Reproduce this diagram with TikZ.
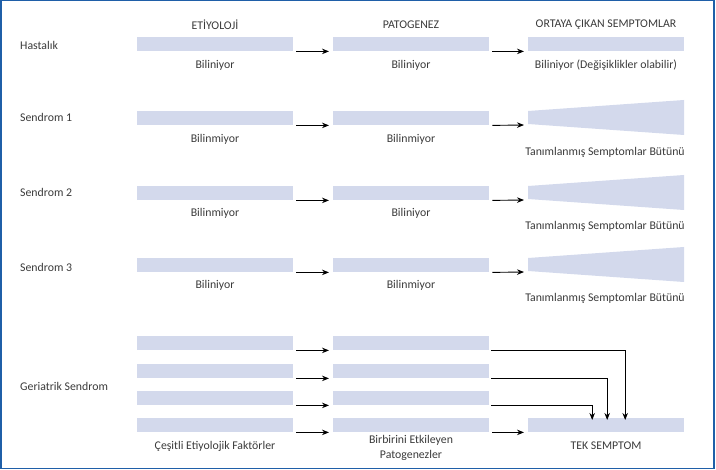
\documentclass[tikz,border=0pt]{standalone}
\usepackage{fontspec}
\setmainfont{Carlito}
\usetikzlibrary{arrows.meta}
\definecolor{barc}{HTML}{D3D9EC}
\definecolor{framec}{HTML}{1F5FA8}
\definecolor{txt}{HTML}{3A3A3A}
\begin{document}
\begin{tikzpicture}[x=1pt,y=-1pt,
  bar/.style={fill=barc, draw=none, minimum width=156pt, minimum height=14pt, inner sep=0, anchor=north west},
  lbl/.style={text=txt, font=\fontsize{11.8}{15}\selectfont, inner sep=0, align=center},
  rowlbl/.style={lbl, anchor=west},
  arr/.style={-{Stealth[length=7pt,width=5.5pt]}, line width=0.9pt},
  trap/.style={fill=barc, draw=none}
]
\useasboundingbox (0,0) rectangle (716,470);
\draw[framec, line width=1.5pt] (0.75,0.75) rectangle (714,468.5);

% Hastalik
\node[rowlbl] (rh) at (20,45) {Hastalık};
\node[bar] (h1) at (137,37) {};
\node[bar] (h2) at (333,37) {};
\node[bar] (h3) at (528,37) {};
\node[lbl] (t1) at (215,25) {ETİYOLOJİ};
\node[lbl] (t2) at (411,25) {PATOGENEZ};
\node[lbl] (t3) at (606,25) {ORTAYA ÇIKAN SEMPTOMLAR};
\node[lbl] (hl1) at (215,65) {Biliniyor};
\node[lbl] (hl2) at (411,65) {Biliniyor};
\node[lbl] (hl3) at (606,65) {Biliniyor (Değişiklikler olabilir)};
\draw[arr] ([xshift=3pt]h1.south east) -- ([xshift=-4pt]h2.south west);
\draw[arr] ([xshift=3pt]h2.south east) -- ([xshift=-4pt]h3.south west);

% Sendrom 1
\node[rowlbl] (r1) at (20,117) {Sendrom 1};
\node[bar] (a1) at (137,111) {};
\node[bar] (a2) at (333,111) {};
\fill[trap] (528,111) -- (684,100) -- (684,135) -- (528,124) -- cycle;
\coordinate (a3) at (528,125);
\node[lbl] (al1) at (215,139) {Bilinmiyor};
\node[lbl] (al2) at (411,139) {Bilinmiyor};
\node[lbl] (al3) at (605,152) {Tanımlanmış Semptomlar Bütünü};
\draw[arr] ([xshift=3pt]a1.south east) -- ([xshift=-4pt]a2.south west);
\draw[arr] ([xshift=3pt]a2.south east) -- ([xshift=-4pt]a3);

% Sendrom 2
\node[rowlbl] (r2) at (20,192) {Sendrom 2};
\node[bar] (b1) at (137,186) {};
\node[bar] (b2) at (333,186) {};
\fill[trap] (528,186) -- (684,175) -- (684,210) -- (528,199) -- cycle;
\coordinate (b3) at (528,200);
\node[lbl] (bl1) at (215,213) {Bilinmiyor};
\node[lbl] (bl2) at (411,213) {Biliniyor};
\node[lbl] (bl3) at (605,226) {Tanımlanmış Semptomlar Bütünü};
\draw[arr] ([xshift=3pt]b1.south east) -- ([xshift=-4pt]b2.south west);
\draw[arr] ([xshift=3pt]b2.south east) -- ([xshift=-4pt]b3);

% Sendrom 3
\node[rowlbl] (r3) at (20,267) {Sendrom 3};
\node[bar] (c1) at (137,258) {};
\node[bar] (c2) at (333,258) {};
\fill[trap] (528,258) -- (684,247) -- (684,282) -- (528,271) -- cycle;
\coordinate (c3) at (528,272);
\node[lbl] (cl1) at (215,285) {Biliniyor};
\node[lbl] (cl2) at (411,285) {Bilinmiyor};
\node[lbl] (cl3) at (605,298) {Tanımlanmış Semptomlar Bütünü};
\draw[arr] ([xshift=3pt]c1.south east) -- ([xshift=-4pt]c2.south west);
\draw[arr] ([xshift=3pt]c2.south east) -- ([xshift=-4pt]c3);

% Geriatrik
\node[rowlbl] (rg) at (20,386) {Geriatrik Sendrom};
\node[bar] (e1) at (137,336) {};
\node[bar] (e2) at (137,364) {};
\node[bar] (e3) at (137,391) {};
\node[bar] (e4) at (137,418) {};
\node[bar] (p1) at (333,336) {};
\node[bar] (p2) at (333,364) {};
\node[bar] (p3) at (333,391) {};
\node[bar] (p4) at (333,418) {};
\node[bar] (tek) at (528,418) {};
\draw[arr] ([xshift=3pt]e1.south east) -- ([xshift=-4pt]p1.south west);
\draw[arr] ([xshift=3pt]e2.south east) -- ([xshift=-4pt]p2.south west);
\draw[arr] ([xshift=3pt]e3.south east) -- ([xshift=-4pt]p3.south west);
\draw[arr] ([xshift=3pt]e4.south east) -- ([xshift=-4pt]p4.south west);
\draw[arr] ([xshift=3pt]p4.south east) -- ([xshift=-4pt]tek.south west);
\draw[arr] ([xshift=2pt]p1.south east) -| ([xshift=19pt,yshift=-2pt]tek.north);
\draw[arr] ([xshift=2pt]p2.south east) -| ([xshift=1pt,yshift=-2pt]tek.north);
\draw[arr] ([xshift=2pt]p3.south east) -| ([xshift=-14pt,yshift=-2pt]tek.north);
\node[lbl] (gl1) at (215,446) {Çeşitli Etiyolojik Faktörler};
\node[lbl] (gl2) at (411,447.5) {Birbirini Etkileyen\\Patogenezler};
\node[lbl] (gl3) at (606,446) {TEK SEMPTOM};
\end{tikzpicture}
\end{document}
